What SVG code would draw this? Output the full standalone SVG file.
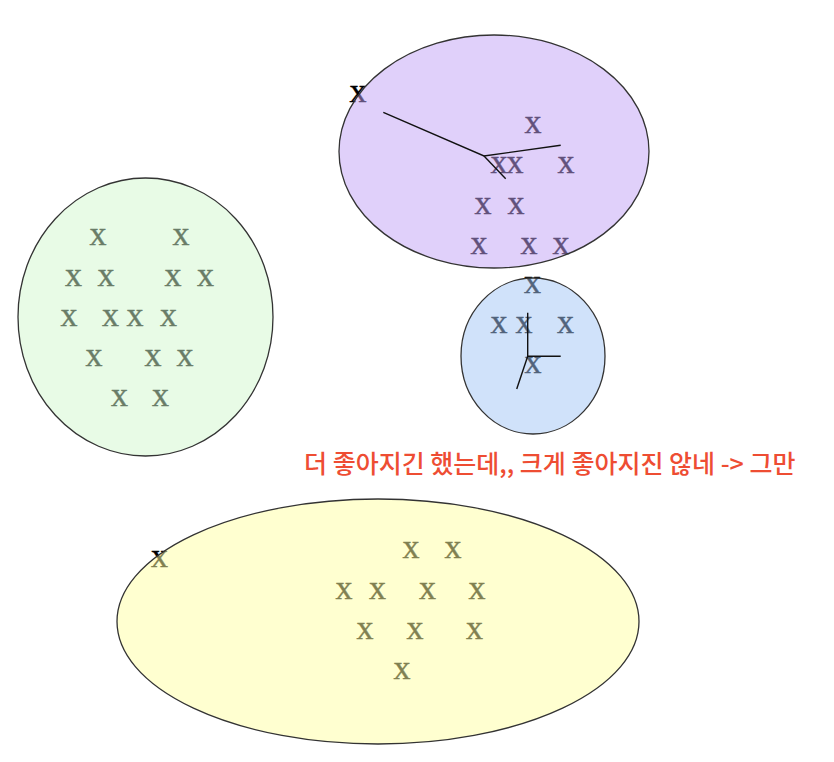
<svg xmlns="http://www.w3.org/2000/svg" width="834" height="762" viewBox="0 0 834 762">
<style>
.x{font-family:"Liberation Serif",serif;font-size:34px;fill:#000;text-anchor:middle;stroke:#000;stroke-width:0.4}
.e{stroke:#333;stroke-width:1.3;fill-opacity:0.5}
.ln{stroke:#111;stroke-width:1.4;fill:none}
.note{font-family:"Noto Sans CJK KR","Noto Sans",sans-serif;font-size:25px;font-weight:500;fill:#ee4d33}
</style>
<rect width="834" height="762" fill="#fff"/>
<g id="purple-cluster">
<g class="x">
<text x="358" y="102">x</text>
<text x="533" y="133">x</text>
<text x="499" y="173">x</text>
<text x="515" y="173">x</text>
<text x="566" y="173">x</text>
<text x="483" y="214">x</text>
<text x="516" y="214">x</text>
<text x="479" y="254">x</text>
<text x="529" y="254">x</text>
<text x="561" y="254">x</text>
</g>
<ellipse class="e" cx="494" cy="151.5" rx="155" ry="116.5" fill="#c1a1f5"/>
</g>
<g id="green-cluster">
<g class="x">
<text x="98" y="245">x</text>
<text x="181" y="245">x</text>
<text x="73.5" y="286">x</text>
<text x="106" y="286">x</text>
<text x="173" y="286">x</text>
<text x="205.5" y="286">x</text>
<text x="69" y="326">x</text>
<text x="110.5" y="326">x</text>
<text x="135" y="326">x</text>
<text x="168.5" y="326">x</text>
<text x="94" y="366">x</text>
<text x="153" y="366">x</text>
<text x="185" y="366">x</text>
<text x="119.5" y="406">x</text>
<text x="160.5" y="406">x</text>
</g>
<ellipse class="e" cx="145.5" cy="317" rx="127.5" ry="139" fill="#d1f7cd"/>
</g>
<g id="blue-cluster">
<g class="x">
<text x="532.5" y="293">x</text>
<text x="499" y="333">x</text>
<text x="524" y="333">x</text>
<text x="565.5" y="333">x</text>
<text x="533" y="373">x</text>
</g>
<ellipse class="e" cx="533" cy="356" rx="72" ry="78" fill="#a1c5f5"/>
</g>
<g id="yellow-cluster">
<g class="x">
<text x="159.5" y="567">x</text>
<text x="411" y="558">x</text>
<text x="453" y="558">x</text>
<text x="344" y="599">x</text>
<text x="377.5" y="599">x</text>
<text x="427.5" y="599">x</text>
<text x="477" y="599">x</text>
<text x="365" y="639">x</text>
<text x="415" y="639">x</text>
<text x="474.5" y="639">x</text>
<text x="402" y="679">x</text>
</g>
<ellipse class="e" cx="378" cy="621.5" rx="261" ry="122.5" fill="#ffffa1"/>
</g>
<g id="connectors">
<polyline class="ln" points="383.3,112.3 484,156 560.7,145.3"/>
<line class="ln" x1="484" y1="156" x2="505.7" y2="178.7"/>
<polyline class="ln" points="527.7,312.7 527.7,356.3 560.7,356.3"/>
<line class="ln" x1="527.7" y1="356.3" x2="516.7" y2="389"/>
</g>
<g id="note">
<text class="note" x="304" y="473">더 좋아지긴 했는데,, 크게 좋아지진 않네 -&gt; 그만</text>
</g>
</svg>
